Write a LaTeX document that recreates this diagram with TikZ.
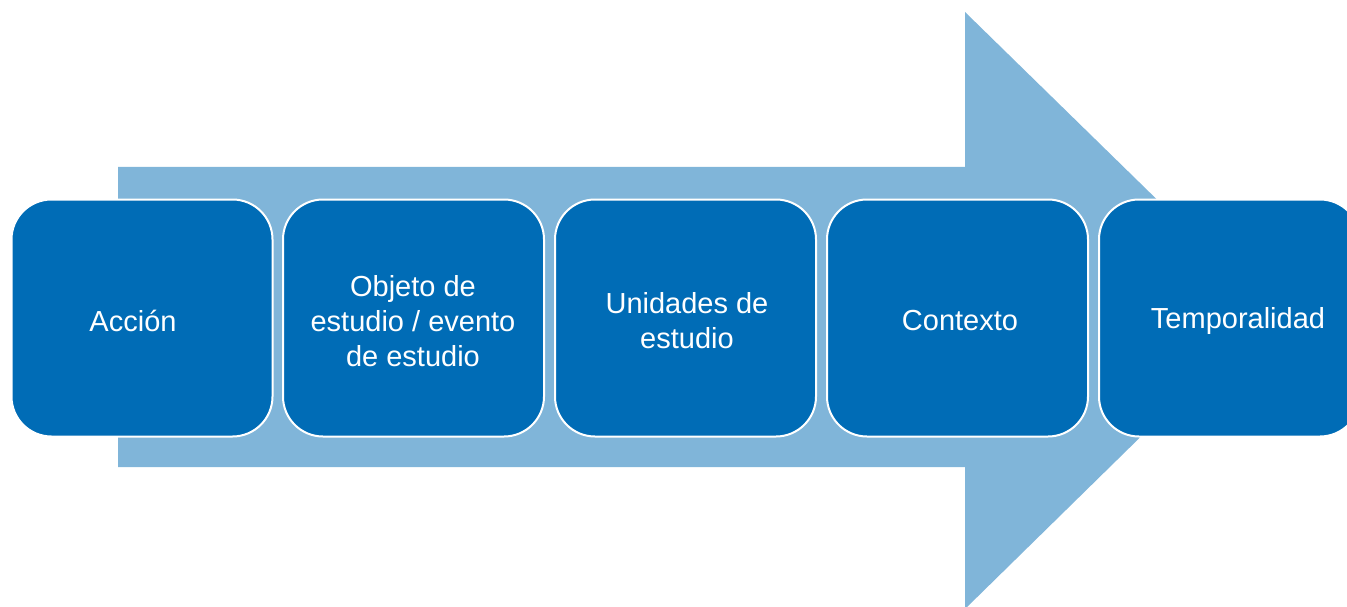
\documentclass[tikz,border=0pt]{standalone}
\usepackage{fontspec}
\setmainfont{Liberation Sans}
\definecolor{boxblue}{RGB}{0,108,182}
\definecolor{arrowblue}{RGB}{128,181,217}
\begin{document}
\begin{tikzpicture}[x=1pt,y=-1pt,
  stepbox/.style={draw=white,line width=2pt,fill=boxblue,rounded corners=40pt,
    minimum width=261pt,minimum height=237pt,inner sep=0pt,outer sep=0pt,anchor=north west},
  lbl/.style={text=white,font=\fontsize{29}{35}\selectfont,align=center}]
\useasboundingbox (0,0) rectangle (1347,607);
\fill[arrowblue] (118,167) -- (965,167) -- (965,12) -- (1270,310) -- (965,609) -- (965,467) -- (118,467) -- cycle;
\node[stepbox] (b1) at (11.5,199.5) {};
\node[stepbox] (b2) at (283,199.5) {};
\node[stepbox] (b3) at (555,199.5) {};
\node[stepbox] (b4) at (827,199.5) {};
\node[stepbox] (b5) at (1099,199.5) {};
\node[lbl] (t1) at (133,321) {Acción};
\node[lbl] (t2) at (413,321) {Objeto de\\estudio / evento\\de estudio};
\node[lbl] (t3) at (687,321) {Unidades de\\estudio};
\node[lbl] (t4) at (960,321) {Contexto};
\node[lbl] (t5) at (1238,321) {Temporalidad};
\end{tikzpicture}
\end{document}
